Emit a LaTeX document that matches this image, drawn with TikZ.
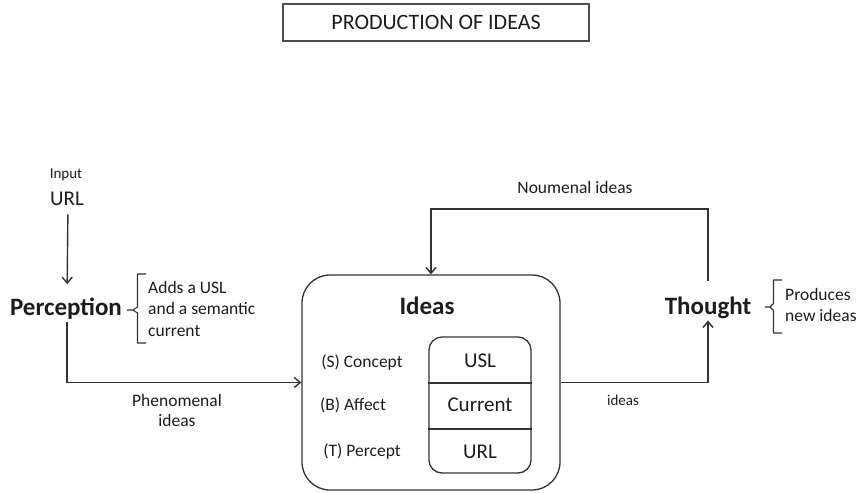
\documentclass[tikz,border=0pt]{standalone}
\usepackage{fontspec}
\setmainfont{Carlito}
\usetikzlibrary{arrows.meta,calc}
\definecolor{ink}{HTML}{1C1C1C}
\definecolor{wire}{HTML}{333333}

\begin{document}
\begin{tikzpicture}[x=1pt,y=-1pt,
  txt/.style={inner sep=0pt, text=ink, anchor=base},
  small/.style={txt, font=\fontsize{17.5}{21}\selectfont},
  tiny/.style={txt, font=\fontsize{15}{18}\selectfont},
  big/.style={txt, font=\fontsize{25}{30}\selectfont\bfseries},
  mid/.style={txt, font=\fontsize{21}{25}\selectfont},
  conn/.style={draw=wire, line width=1.4pt, -{Straight Barb[length=6pt,width=10pt]}},
  brace/.style={draw=wire, line width=1.1pt, line join=round},
  frame/.style={draw=wire, line width=1.3pt}
]
\useasboundingbox (0,0) rectangle (863,493);

% title
\node[frame, draw=black!70, minimum width=306pt, minimum height=37pt, inner sep=0pt,
      font=\fontsize{22}{26}\selectfont, text=ink] (title) at (436,22.5) {PRODUCTION OF IDEAS};

% input side
\node[tiny] (input) at (66,178) {Input};
\node[mid] (url) at (67,205) {URL};
\node[big] (perc) at (66,315) {Perception};
% multi-line nodes sit on the baseline of their last line
\node[small, anchor=base west, align=left, font=\fontsize{17.5}{21.3}\selectfont] (adds) at (148,336) {Adds a USL\\and a semantic\\current};
\draw[brace] (146,274) -- (137.5,274) -- (137.5,307) -- (133,310) -- (127,310)
             (133,310) -- (137.5,313) -- (137.5,343) -- (146,343);

% ideas box
\node[frame, rounded corners=28pt, minimum width=258pt, minimum height=215pt, inner sep=0pt] (ideas) at (431,382.5) {};
\node[big] (ideastitle) at (427,314) {Ideas};
\node[frame, rounded corners=13pt, minimum width=102pt, minimum height=136pt, inner sep=0pt] (inner) at (480,405) {};
\draw[frame] (inner.west |- 0,383) -- (inner.east |- 0,383);
\draw[frame] (inner.west |- 0,429) -- (inner.east |- 0,429);
\node[mid] (usl) at (480,367.5) {USL};
\node[mid] (cur) at (480,411) {Current};
\node[mid] (url2) at (480,458.5) {URL};
\node[small] (concept) at (362,367.5) {(S) Concept};
\node[small] (affect) at (353,410) {(B) Affect};
\node[small] (percept) at (362,456) {(T) Percept};

% thought side
\node[big] (thought) at (708,314) {Thought};
\node[small, anchor=base west, align=left] (prod) at (785,321) {Produces\\new ideas};
\draw[brace] (782,280) -- (773.5,280) -- (773.5,303.5) -- (770,307) -- (765,307)
             (770,307) -- (773.5,310.5) -- (773.5,333) -- (782,333);

% connectors
\coordinate (top) at (570,209);
\draw[conn, shorten <=9pt, shorten >=13pt] ([xshift=1pt]url.south) -- ([xshift=1pt]perc.north);
\draw[conn, shorten <=3pt] ([xshift=1pt]perc.south) |- (ideas.west);
\draw[conn, shorten >=2pt] (ideas.east) -| (thought.south);
\draw[conn, shorten <=15pt] (thought.north) -- (thought.north |- top) -| (ideas.north);

% connector labels
\node[small] (noum) at (575,193) {Noumenal ideas};
\node[small, align=center, font=\fontsize{17.5}{20}\selectfont] (phen) at (177,426.5) {Phenomenal\\ideas};
\node[tiny] (out) at (623,405) {ideas};
\end{tikzpicture}
\end{document}
